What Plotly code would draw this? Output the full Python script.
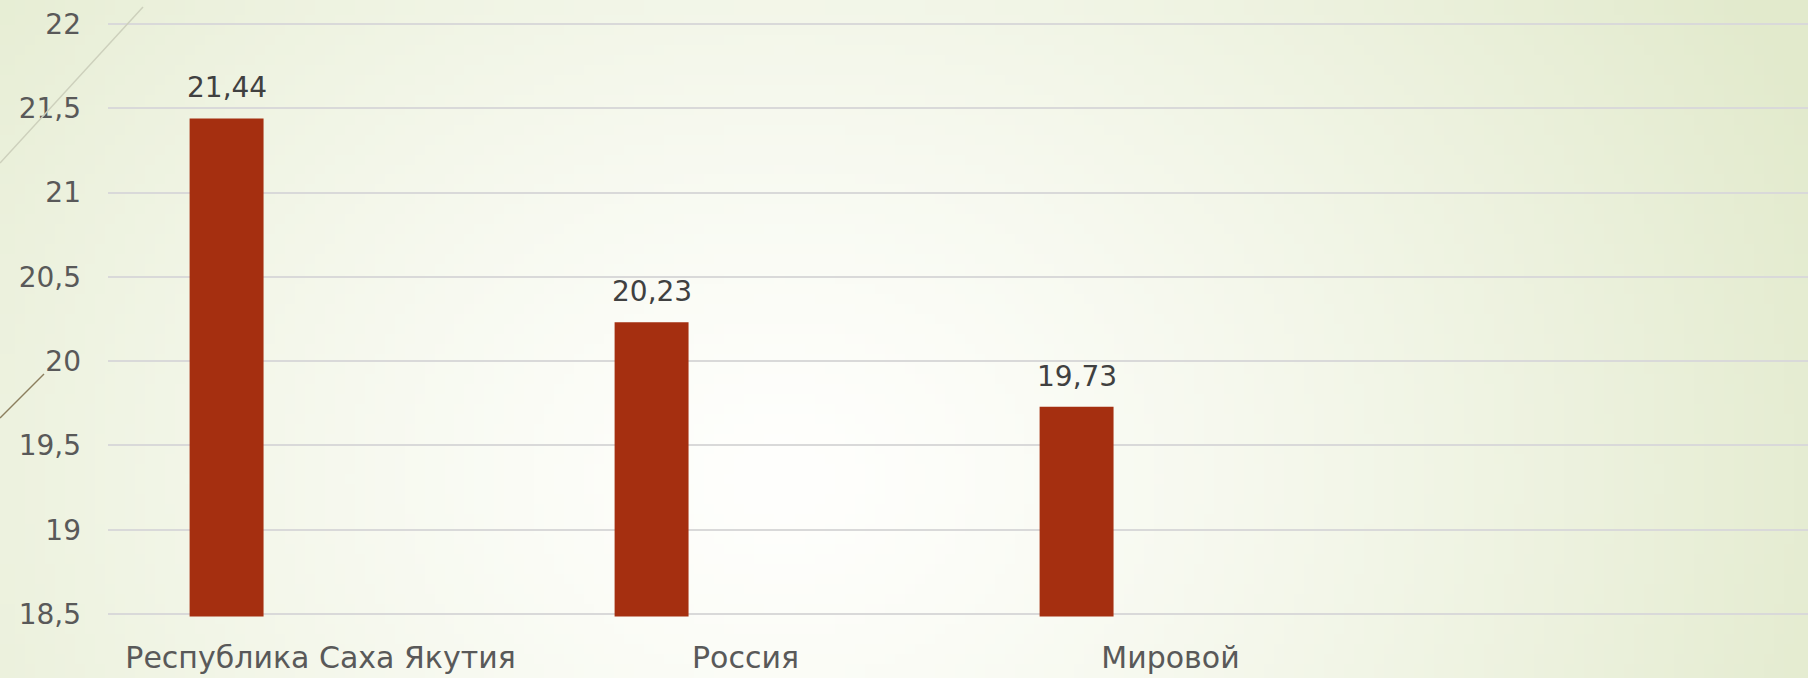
import base64
import struct
import zlib

import numpy as np
import plotly.graph_objects as go

# ---- data ----
categories = ["Республика Саха Якутия", "Россия", "Мировой"]
values = [21.44, 20.23, 19.73]
y_ticks = [18.5, 19, 19.5, 20, 20.5, 21, 21.5, 22]
y_tick_labels = ["18,5", "19", "19,5", "20", "20,5", "21", "21,5", "22"]

# ---- style ----
W, H = 1808, 678
BAR_COLOR = "#A52F10"
TEXT = "#595959"
LABEL = "#404040"
GRID = "#D9D9D9"
FONT = "DejaVu Sans"
BAR_WIDTH = 0.174
BAR_OFFSET = -0.308

Y_MIN, Y_MAX = 18.5, 22.0
PAD = 0.015
TOP_PX, BOTTOM_PX = 24.0, 614.0
PX_PER_UNIT = (BOTTOM_PX - TOP_PX) / (Y_MAX - Y_MIN)
DOM_TOP = TOP_PX - PAD * PX_PER_UNIT
DOM_BOTTOM = BOTTOM_PX + PAD * PX_PER_UNIT


def gradient_png(w, h):
    ys, xs = np.mgrid[0:h, 0:w].astype(float)
    xs = xs / (w - 1) * W
    ys = ys / (h - 1) * H
    cx, cy, rx, ry = 780.0, 480.0, 1150.0, 950.0
    t = np.sqrt(((xs - cx) / rx) ** 2 + ((ys - cy) / ry) ** 2)
    t = np.clip(t, 0, 1) ** 1.3
    c0 = np.array([255, 255, 253], float)
    c1 = np.array([226, 234, 204], float)
    img = (c0[None, None, :] * (1 - t[..., None]) + c1[None, None, :] * t[..., None]).astype(np.uint8)
    raw = b"".join(b"\x00" + img[r].tobytes() for r in range(h))

    def chunk(tag, data):
        c = struct.pack(">I", len(data)) + tag + data
        return c + struct.pack(">I", zlib.crc32(tag + data) & 0xFFFFFFFF)

    png = b"\x89PNG\r\n\x1a\n"
    png += chunk(b"IHDR", struct.pack(">IIBBBBB", w, h, 8, 2, 0, 0, 0))
    png += chunk(b"IDAT", zlib.compress(raw, 9))
    png += chunk(b"IEND", b"")
    return "data:image/png;base64," + base64.b64encode(png).decode()


fig = go.Figure()
fig.add_trace(
    go.Bar(
        x=categories,
        y=values,
        width=BAR_WIDTH,
        offset=BAR_OFFSET,
        marker=dict(color=BAR_COLOR, line=dict(width=0)),
        hoverinfo="skip",
    )
)

annotations = []
for i, v in enumerate(values):
    annotations.append(
        dict(
            x=i + BAR_OFFSET + BAR_WIDTH / 2,
            y=v,
            xref="x",
            yref="y",
            text=f"{v:.2f}".replace(".", ","),
            showarrow=False,
            yanchor="bottom",
            yshift=12,
            font=dict(family=FONT, size=28, color=LABEL),
        )
    )

fig.update_layout(
    width=W,
    height=H,
    margin=dict(l=0, r=0, t=0, b=0),
    paper_bgcolor="rgba(0,0,0,0)",
    plot_bgcolor="rgba(0,0,0,0)",
    showlegend=False,
    separators=", ",
    font=dict(family=FONT, color=TEXT, size=28),
    annotations=annotations,
    images=[
        dict(
            source=gradient_png(181, 68),
            xref="paper",
            yref="paper",
            x=0,
            y=1,
            sizex=1,
            sizey=1,
            sizing="stretch",
            xanchor="left",
            yanchor="top",
            layer="below",
        )
    ],
    shapes=[
        dict(type="line", xref="paper", yref="paper",
             x0=143 / W, y0=1 - 7 / H, x1=0, y1=1 - 163 / H,
             line=dict(color="#CDD0BC", width=1.5)),
        dict(type="line", xref="paper", yref="paper",
             x0=44 / W, y0=1 - 374 / H, x1=0, y1=1 - 418 / H,
             line=dict(color="#8C7F5E", width=1.5)),
    ],
    xaxis=dict(
        domain=[108 / W, 1],
        range=[-0.5, 3.5],
        type="category",
        showgrid=False,
        showline=False,
        zeroline=False,
        ticks="",
        ticklabelstandoff=20,
        tickfont=dict(family=FONT, size=30, color=TEXT),
        automargin=False,
        fixedrange=True,
    ),
    yaxis=dict(
        domain=[1 - DOM_BOTTOM / H, 1 - DOM_TOP / H],
        range=[Y_MIN - PAD, Y_MAX + PAD],
        tickvals=y_ticks,
        ticktext=y_tick_labels,
        showgrid=True,
        gridcolor=GRID,
        gridwidth=2,
        showline=False,
        zeroline=False,
        ticks="",
        ticklabelstandoff=26,
        tickfont=dict(family=FONT, size=28, color=TEXT),
        automargin=False,
        fixedrange=True,
    ),
)

fig.write_html(
    "out.html",
    config={"displayModeBar": False},
    post_script="document.body.style.margin='0';document.body.style.overflow='hidden';",
)
